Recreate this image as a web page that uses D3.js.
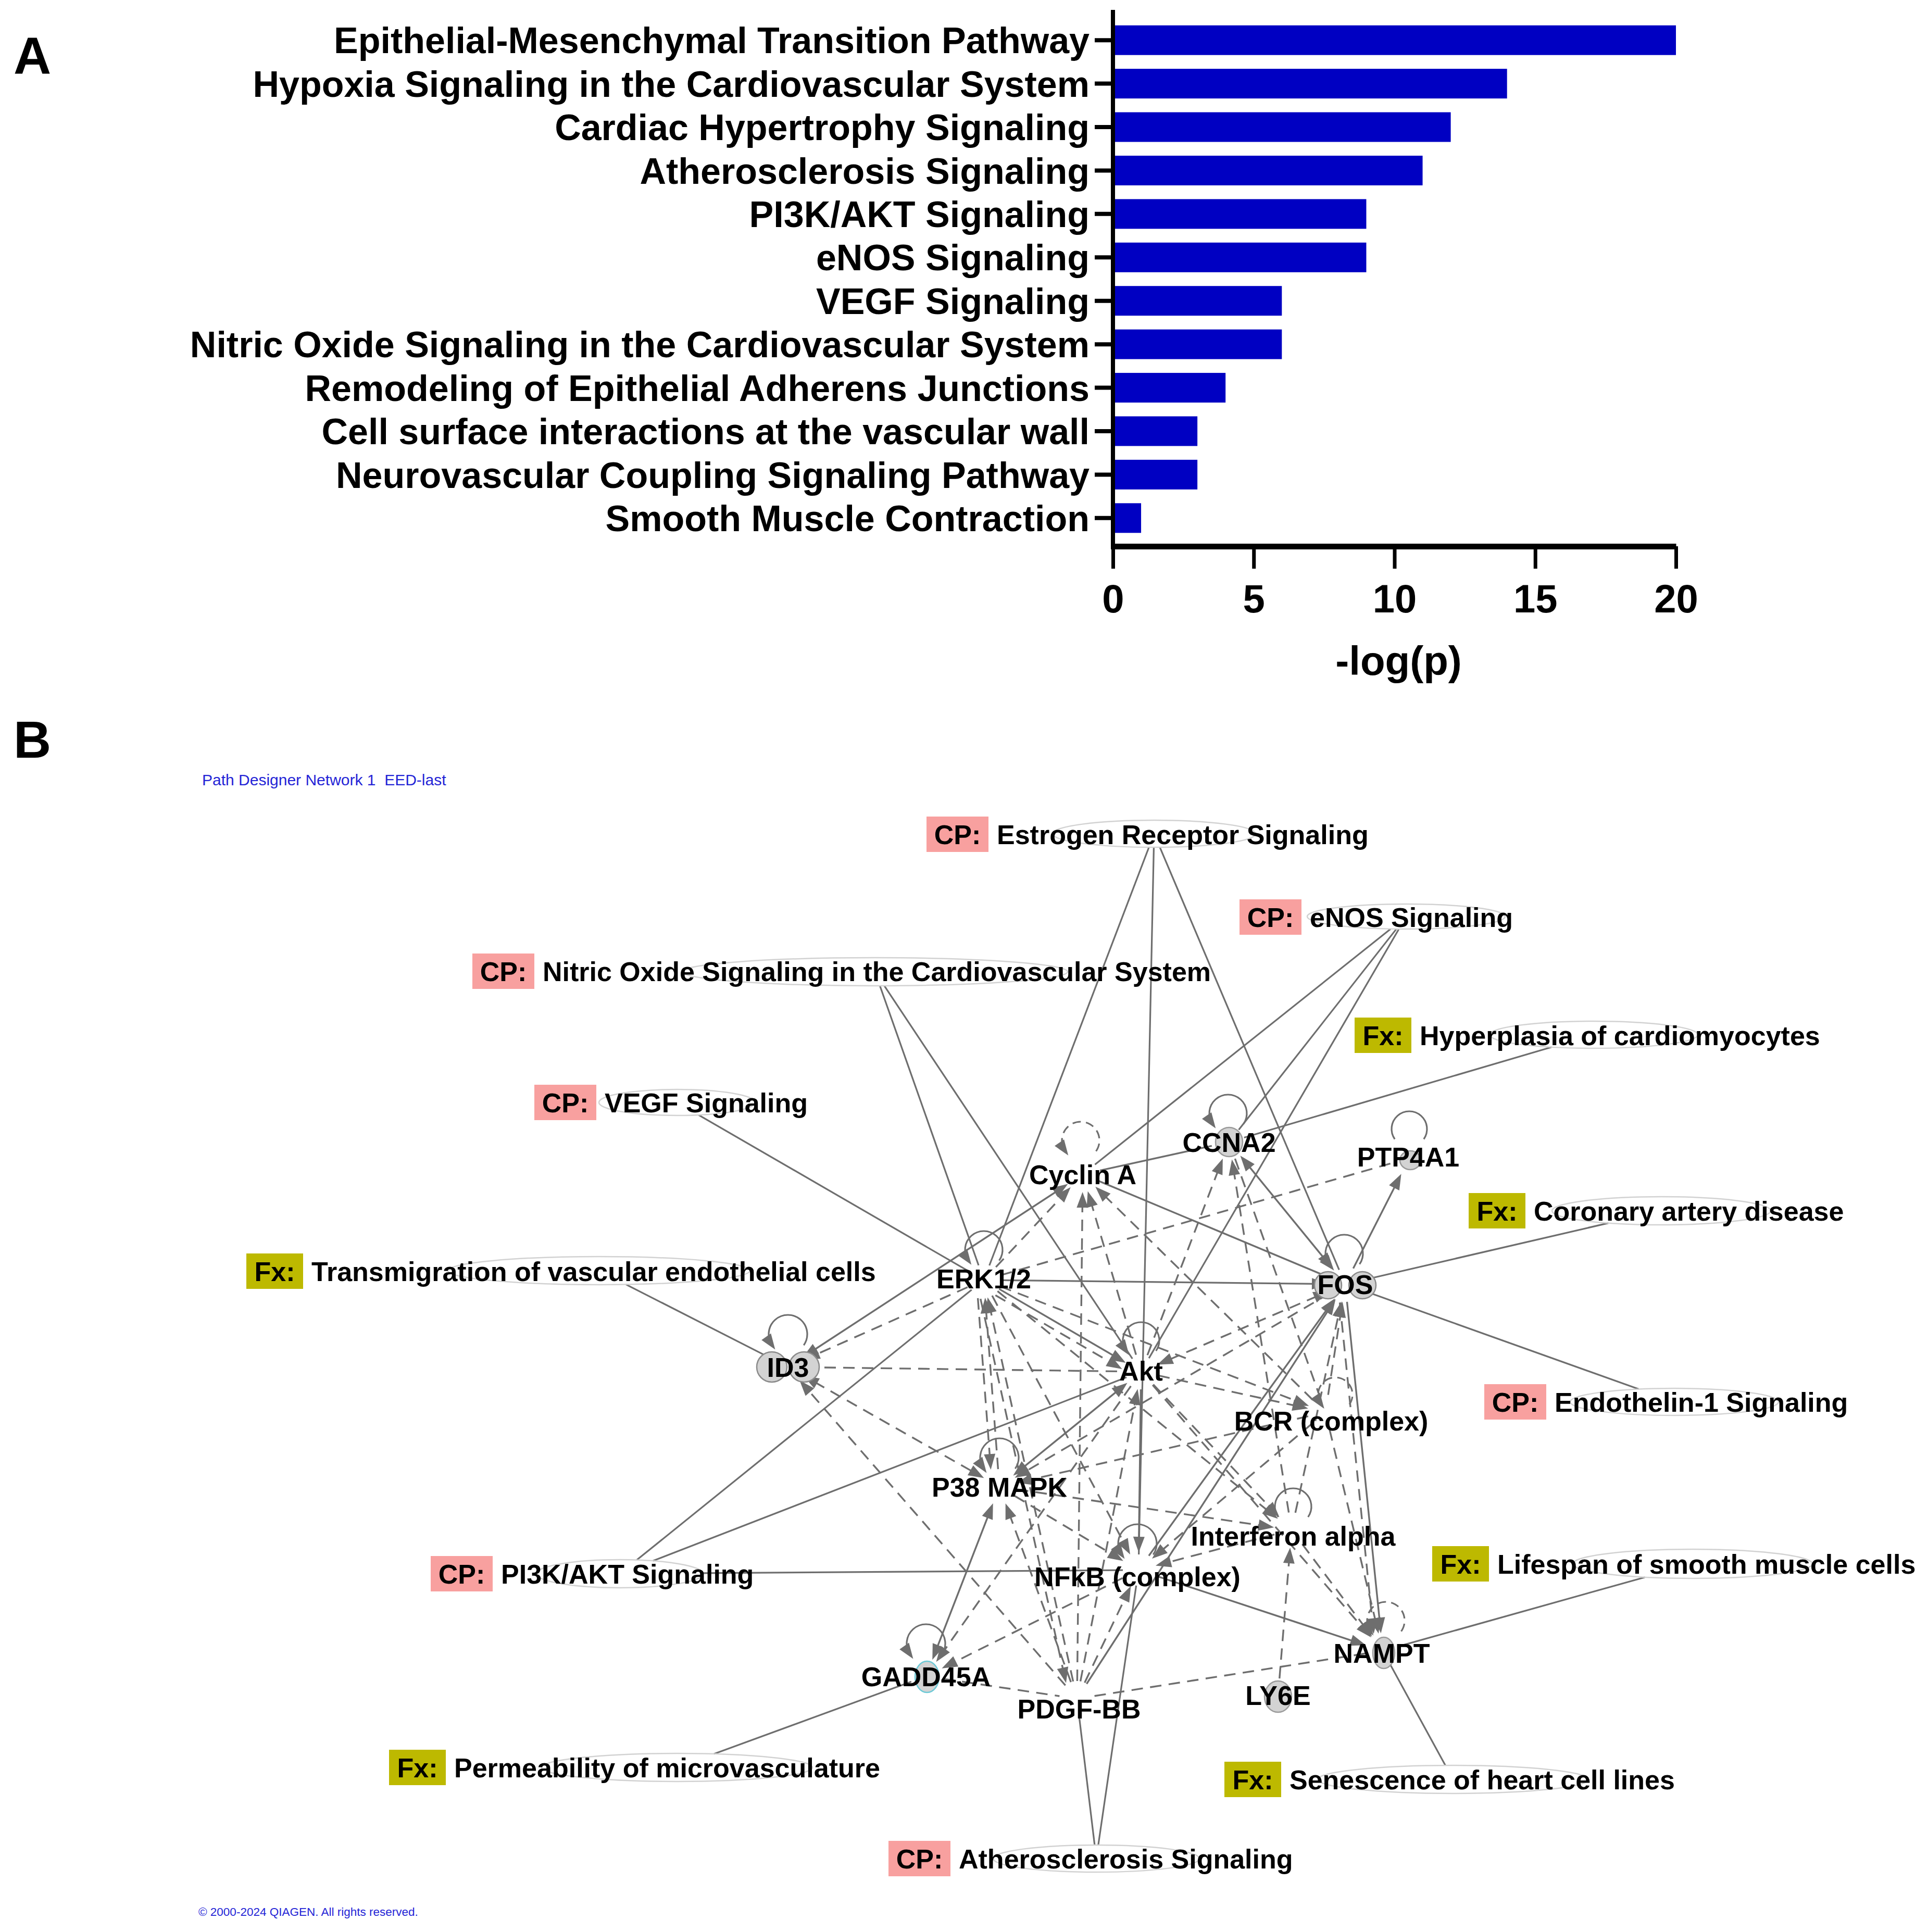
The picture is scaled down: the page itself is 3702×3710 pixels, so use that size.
<!DOCTYPE html>
<html><head><meta charset="utf-8">
<script src="https://cdn.jsdelivr.net/npm/d3@7"></script>
<style>html,body{margin:0;padding:0;background:#fff;} svg{display:block;}</style>
</head><body>
<script>
// ---------------- Panel A data ----------------
const pathways = [
  "Epithelial-Mesenchymal Transition Pathway",
  "Hypoxia Signaling in the Cardiovascular System",
  "Cardiac Hypertrophy Signaling",
  "Atherosclerosis Signaling",
  "PI3K/AKT Signaling",
  "eNOS Signaling",
  "VEGF Signaling",
  "Nitric Oxide Signaling in the Cardiovascular System",
  "Remodeling of Epithelial Adherens Junctions",
  "Cell surface interactions at the vascular wall",
  "Neurovascular Coupling Signaling Pathway",
  "Smooth Muscle Contraction"
];
const logP = [20, 14, 12, 11, 9, 9, 6, 6, 4, 3, 3, 1];
const xTickValues = [0, 5, 10, 15, 20];
const xAxisTitle = "-log(p)";

// ---------------- Panel B data ----------------
const molecules = ["Cyclin A","CCNA2","PTP4A1","ERK1/2","FOS","ID3","Akt","BCR (complex)",
  "P38 MAPK","Interferon alpha","NFkB (complex)","NAMPT","GADD45A","PDGF-BB","LY6E"];
const functionNodes = [
  ["CP","Estrogen Receptor Signaling"],
  ["CP","eNOS Signaling"],
  ["CP","Nitric Oxide Signaling in the Cardiovascular System"],
  ["Fx","Hyperplasia of cardiomyocytes"],
  ["CP","VEGF Signaling"],
  ["Fx","Coronary artery disease"],
  ["Fx","Transmigration of vascular endothelial cells"],
  ["CP","Endothelin-1 Signaling"],
  ["Fx","Lifespan of smooth muscle cells"],
  ["CP","PI3K/AKT Signaling"],
  ["Fx","Permeability of microvasculature"],
  ["Fx","Senescence of heart cell lines"],
  ["CP","Atherosclerosis Signaling"]
];
const functionLinks = [
  ["Estrogen Receptor Signaling","ERK1/2"],["Estrogen Receptor Signaling","NFkB (complex)"],["Estrogen Receptor Signaling","FOS"],
  ["eNOS Signaling","Cyclin A"],["eNOS Signaling","CCNA2"],["eNOS Signaling","Akt"],
  ["Nitric Oxide Signaling in the Cardiovascular System","ERK1/2"],["Nitric Oxide Signaling in the Cardiovascular System","Akt"],
  ["Hyperplasia of cardiomyocytes","CCNA2"],
  ["VEGF Signaling","ERK1/2"],
  ["Coronary artery disease","FOS"],
  ["Transmigration of vascular endothelial cells","ID3"],
  ["Endothelin-1 Signaling","FOS"],
  ["Lifespan of smooth muscle cells","NAMPT"],
  ["PI3K/AKT Signaling","ERK1/2"],["PI3K/AKT Signaling","Akt"],["PI3K/AKT Signaling","NFkB (complex)"],
  ["Permeability of microvasculature","GADD45A"],
  ["Senescence of heart cell lines","NAMPT"],
  ["Atherosclerosis Signaling","PDGF-BB"],["Atherosclerosis Signaling","NFkB (complex)"]
];
// [source, target, line style, arrowheads]
const molecularLinks = [
  ["ERK1/2","FOS","solid","end"],
  ["CCNA2","Cyclin A","solid","none"],
  ["Cyclin A","FOS","solid","none"],
  ["CCNA2","FOS","solid","both"],
  ["FOS","PTP4A1","solid","end"],
  ["Cyclin A","ID3","solid","both"],
  ["ERK1/2","Akt","solid","end"],
  ["Akt","NFkB (complex)","solid","end"],
  ["Akt","P38 MAPK","solid","both"],
  ["P38 MAPK","GADD45A","solid","both"],
  ["NFkB (complex)","FOS","solid","end"],
  ["PDGF-BB","FOS","solid","end"],
  ["FOS","NAMPT","solid","end"],
  ["NFkB (complex)","NAMPT","solid","end"],
  ["ERK1/2","PTP4A1","dashed","none"],
  ["ERK1/2","ID3","dashed","end"],
  ["ERK1/2","Cyclin A","dashed","end"],
  ["ID3","Akt","dashed","none"],
  ["ID3","P38 MAPK","dashed","both"],
  ["PDGF-BB","ID3","dashed","end"],
  ["PDGF-BB","Cyclin A","dashed","end"],
  ["PDGF-BB","ERK1/2","dashed","end"],
  ["ERK1/2","PDGF-BB","dashed","end+"],
  ["PDGF-BB","Akt","dashed","end"],
  ["PDGF-BB","NFkB (complex)","dashed","end"],
  ["PDGF-BB","P38 MAPK","dashed","end"],
  ["GADD45A","PDGF-BB","dashed","none"],
  ["PDGF-BB","NAMPT","dashed","none"],
  ["NFkB (complex)","GADD45A","dashed","end"],
  ["Akt","GADD45A","dashed","end"],
  ["Akt","Cyclin A","dashed","end"],
  ["BCR (complex)","Cyclin A","dashed","end"],
  ["Akt","CCNA2","dashed","end"],
  ["Interferon alpha","CCNA2","dashed","end"],
  ["CCNA2","BCR (complex)","dashed","none"],
  ["ERK1/2","BCR (complex)","dashed","end"],
  ["ERK1/2","Interferon alpha","dashed","end"],
  ["P38 MAPK","ERK1/2","dashed","end"],
  ["ERK1/2","P38 MAPK","dashed","end+"],
  ["ERK1/2","NFkB (complex)","dashed","end"],
  ["ERK1/2","Akt","dashed","end+"],
  ["P38 MAPK","Interferon alpha","dashed","end"],
  ["P38 MAPK","NFkB (complex)","dashed","end"],
  ["BCR (complex)","P38 MAPK","dashed","end"],
  ["BCR (complex)","FOS","dashed","end"],
  ["BCR (complex)","NFkB (complex)","dashed","end"],
  ["Interferon alpha","FOS","dashed","end"],
  ["Interferon alpha","NFkB (complex)","dashed","end"],
  ["LY6E","Interferon alpha","dashed","end"],
  ["BCR (complex)","NAMPT","dashed","end"],
  ["Akt","Interferon alpha","dashed","end"],
  ["Interferon alpha","NAMPT","dashed","end"],
  ["Akt","BCR (complex)","dashed","end"],
  ["FOS","Akt","dashed","both"],
  ["FOS","P38 MAPK","dashed","end"],
  ["Akt","NAMPT","dashed","end"],
  ["FOS","NAMPT","dashed","end+"]
];
// [molecule, line style, arrowhead]
const selfLoops = [
  ["Cyclin A","dashed",true],["CCNA2","solid",true],["PTP4A1","solid",false],["ERK1/2","solid",true],
  ["FOS","solid",true],["ID3","solid",true],["Akt","solid",true],["BCR (complex)","dashed",true],
  ["P38 MAPK","solid",true],["Interferon alpha","solid",false],["NFkB (complex)","solid",true],
  ["NAMPT","dashed",true],["GADD45A","solid",true]
];
const networkTitle = "Path Designer Network 1  EED-last";
const copyrightText = "\u00a9 2000-2024 QIAGEN. All rights reserved.";

// ---------------- Layout (pixel positions of the diagram) ----------------
// molecule: [anchor x, anchor y, label x, label y]
const moleculeLayout = {
  "Cyclin A":[2079,2255,2079,2255], "CCNA2":[2360,2193,2360,2193], "PTP4A1":[2706,2224,2704,2221],
  "ERK1/2":[1889,2458,1889,2455], "FOS":[2583,2466,2583,2466], "ID3":[1513,2625,1513,2625],
  "Akt":[2191,2634,2191,2632], "BCR (complex)":[2545,2712,2556,2728], "P38 MAPK":[1919,2855,1919,2855],
  "Interferon alpha":[2480,2938,2483,2949], "NFkB (complex)":[2186,3015,2184,3027],
  "NAMPT":[2655,3170,2653,3174], "GADD45A":[1778,3219,1778,3219], "PDGF-BB":[2068,3262,2072,3281],
  "LY6E":[2454,3257,2454,3255]
};
// circles drawn under molecule labels: [molecule, cx, cy, rx, ry, stroke]
const moleculeShapes = [
  ["CCNA2",2360,2193,26,28,"#9a9a9a"],["PTP4A1",2708,2228,20,18,"#9a9a9a"],
  ["FOS",2550,2468,26,26,"#8a8a8a"],["FOS",2616,2468,26,26,"#8a8a8a"],
  ["ID3",1482,2625,29,29,"#8a8a8a"],["ID3",1544,2625,29,29,"#8a8a8a"],
  ["LY6E",2454,3258,26,30,"#9a9a9a"],["NAMPT",2657,3174,21,30,"#9a9a9a"],
  ["GADD45A",1780,3220,23,30,"#6cc9d6"]
];
// loop offsets relative to anchor: [dx, dy, r]
const loopLayout = {
  "Cyclin A":[-4,-65,36], "CCNA2":[-2,-55,36], "PTP4A1":[0,-56,34], "ERK1/2":[0,-58,36],
  "FOS":[-2,-59,36], "ID3":[0,-63,37], "Akt":[0,-60,35], "BCR (complex)":[19,-34,33],
  "P38 MAPK":[0,-56,37], "Interferon alpha":[3,-45,35], "NFkB (complex)":[-2,-51,37],
  "NAMPT":[6,-58,36], "GADD45A":[0,-63,37]
};
// function node: box left, centre y, ellipse cx, cy, rx, ry
const functionLayout = {
  "Estrogen Receptor Signaling":[1779,1602,2216,1601,195,26],
  "eNOS Signaling":[2380,1761,2700,1760,190,24],
  "Nitric Oxide Signaling in the Cardiovascular System":[907,1865,1680,1866,370,27],
  "Hyperplasia of cardiomyocytes":[2601,1988,3060,1987,200,26],
  "VEGF Signaling":[1026,2117,1300,2117,150,25],
  "Coronary artery disease":[2820,2325,3190,2325,210,27],
  "Transmigration of vascular endothelial cells":[473,2441,1150,2440,290,27],
  "Endothelin-1 Signaling":[2850,2692,3215,2692,200,26],
  "Lifespan of smooth muscle cells":[2750,3003,3250,3003,230,28],
  "PI3K/AKT Signaling":[827,3022,1190,3022,160,27],
  "Permeability of microvasculature":[747,3394,1300,3394,260,27],
  "Senescence of heart cell lines":[2351,3417,2790,3417,260,27],
  "Atherosclerosis Signaling":[1706,3569,2105,3569,198,26]
};

// ---------------- Drawing ----------------
const W = 3702, H = 3710;
const FONT = "'Liberation Sans', Arial, Helvetica, sans-serif";
const svg = d3.select("body").append("svg").attr("width", W).attr("height", H);
svg.append("rect").attr("width", W).attr("height", H).attr("fill", "#fff");

// ===== Panel A =====
const gA = svg.append("g");
const x = d3.scaleLinear().domain([0, 20]).range([2137, 3218]);
const y = d3.scaleBand().domain(pathways).range([7, 1065]).paddingInner(0.317).paddingOuter(0.5);

gA.selectAll("rect.bar").data(pathways).join("rect")
  .attr("class", "bar")
  .attr("x", x(0)).attr("y", d => y(d))
  .attr("width", (d, i) => x(logP[i]) - x(0))
  .attr("height", y.bandwidth())
  .attr("fill", "#0000c2");

const yAxis = gA.append("g").attr("transform", `translate(${x(0)},0)`)
  .call(d3.axisLeft(y).tickSize(35).tickPadding(10).tickSizeOuter(0));
yAxis.select(".domain").remove();
yAxis.attr("font-family", FONT).attr("font-size", 70).attr("font-weight", "bold");
yAxis.selectAll(".tick line").attr("stroke", "#000").attr("stroke-width", 8);
yAxis.selectAll(".tick text").attr("fill", "#000").attr("dy", "0.36em");

gA.append("line").attr("x1", x(0)).attr("x2", x(0)).attr("y1", 19).attr("y2", 1055)
  .attr("stroke", "#000").attr("stroke-width", 8);

const xAxis = gA.append("g").attr("transform", "translate(0,1049)")
  .call(d3.axisBottom(x).tickValues(xTickValues).tickSize(43).tickPadding(30).tickSizeOuter(0));
xAxis.attr("font-family", FONT).attr("font-size", 76).attr("font-weight", "bold");
xAxis.select(".domain").attr("stroke", "#000").attr("stroke-width", 11);
xAxis.selectAll(".tick line").attr("stroke", "#000").attr("stroke-width", 7);
xAxis.selectAll(".tick text").attr("fill", "#000");

gA.append("text").attr("x", (x(0) + x(20)) / 2 + 8).attr("y", 1296)
  .attr("text-anchor", "middle").attr("font-family", FONT).attr("font-weight", "bold")
  .attr("font-size", 78).text(xAxisTitle);

svg.append("text").attr("x", 26).attr("y", 142).attr("font-family", FONT).attr("font-weight", "bold")
  .attr("font-size", 100).text("A");
svg.append("text").attr("x", 26).attr("y", 1455).attr("font-family", FONT).attr("font-weight", "bold")
  .attr("font-size", 100).text("B");

// ===== Panel B =====
const gB = svg.append("g");
const EDGE = "#6e6e6e";
const gEdges = gB.append("g");
const gArrows = gB.append("g");
const R = 34, AL = 30, AW = 11;

function arrowHead(tip, ux, uy) {
  const bx = tip[0] - ux * AL, by = tip[1] - uy * AL;
  const nx = -uy, ny = ux;
  gArrows.append("path")
    .attr("d", `M${tip[0]},${tip[1]}L${bx + nx * AW},${by + ny * AW}L${bx - nx * AW},${by - ny * AW}Z`)
    .attr("fill", EDGE);
}
function drawLine(p1, p2, style, width) {
  gEdges.append("line").attr("x1", p1[0]).attr("y1", p1[1]).attr("x2", p2[0]).attr("y2", p2[1])
    .attr("stroke", EDGE).attr("stroke-width", width)
    .attr("stroke-dasharray", style === "dashed" ? "22,14" : null);
}

// function links
functionLinks.forEach(([f, m]) => {
  const L = functionLayout[f];
  const cx = L[2], cy = L[3], rx = L[4], ry = L[5];
  const t = moleculeLayout[m];
  const dx = t[0] - cx, dy = t[1] - cy;
  const k = 1 / Math.sqrt((dx / rx) ** 2 + (dy / ry) ** 2);
  const len = Math.hypot(dx, dy);
  const p1 = [cx + dx * k, cy + dy * k];
  const p2 = [t[0] - dx / len * 30, t[1] - dy / len * 30];
  drawLine(p1, p2, "solid", 3.2);
});

// molecular links
molecularLinks.forEach(([s, t, style, arrows]) => {
  const a = moleculeLayout[s], b = moleculeLayout[t];
  const dx = b[0] - a[0], dy = b[1] - a[1], len = Math.hypot(dx, dy);
  const ux = dx / len, uy = dy / len, nx = -uy, ny = ux;
  const off = arrows.endsWith("+") ? 14 : 0;
  const p1 = [a[0] + ux * R + nx * off, a[1] + uy * R + ny * off];
  const p2 = [b[0] - ux * R + nx * off, b[1] - uy * R + ny * off];
  const endArrow = arrows.startsWith("end") || arrows === "both";
  const startArrow = arrows === "both";
  const q1 = startArrow ? [p1[0] + ux * AL * 0.8, p1[1] + uy * AL * 0.8] : p1;
  const q2 = endArrow ? [p2[0] - ux * AL * 0.8, p2[1] - uy * AL * 0.8] : p2;
  drawLine(q1, q2, style, 3.4);
  if (endArrow) arrowHead(p2, ux, uy);
  if (startArrow) arrowHead(p1, -ux, -uy);
});

// self loops
selfLoops.forEach(([m, style, arrow]) => {
  const n = moleculeLayout[m], L = loopLayout[m];
  const cx = n[0] + L[0], cy = n[1] + L[1], r = L[2];
  const a = 55 * Math.PI / 180;
  const A = [cx - r * Math.sin(a), cy + r * Math.cos(a)];
  const B = [cx + r * Math.sin(a), cy + r * Math.cos(a)];
  gEdges.append("path")
    .attr("d", `M${B[0]},${B[1]}A${r},${r} 0 1 0 ${A[0]},${A[1]}`)
    .attr("fill", "none").attr("stroke", EDGE).attr("stroke-width", 3.2)
    .attr("stroke-dasharray", style === "dashed" ? "16,10" : null);
  if (arrow) {
    const phi = Math.PI / 2 + a;
    const ux = Math.sin(phi), uy = -Math.cos(phi);
    arrowHead([A[0] + ux * 10, A[1] + uy * 10], ux, uy);
  }
});

// ellipses behind function labels
gB.append("g").selectAll("ellipse").data(functionNodes).join("ellipse")
  .attr("cx", d => functionLayout[d[1]][2]).attr("cy", d => functionLayout[d[1]][3])
  .attr("rx", d => functionLayout[d[1]][4]).attr("ry", d => functionLayout[d[1]][5])
  .attr("fill", "none").attr("stroke", "#d2d2d2").attr("stroke-width", 2.5);

// molecule shapes
gB.append("g").selectAll("ellipse").data(moleculeShapes).join("ellipse")
  .attr("cx", d => d[1]).attr("cy", d => d[2]).attr("rx", d => d[3]).attr("ry", d => d[4])
  .attr("fill", "#d3d3d3").attr("stroke", d => d[5]).attr("stroke-width", 2.5);

// function labels
const gF = gB.append("g").attr("font-family", FONT).attr("font-weight", "bold").attr("font-size", 52);
functionNodes.forEach(([type, name]) => {
  const L = functionLayout[name];
  const bw = type === "CP" ? 119 : 109;
  gF.append("rect").attr("x", L[0]).attr("y", L[1] - 34).attr("width", bw).attr("height", 68)
    .attr("fill", type === "CP" ? "#f8a09f" : "#bdb900");
  gF.append("text").attr("x", L[0] + bw / 2).attr("y", L[1] + 19).attr("text-anchor", "middle")
    .attr("fill", "#000").text(type + ":");
  gF.append("text").attr("x", L[0] + bw + 16).attr("y", L[1] + 19)
    .attr("fill", "#000").text(name);
});

// molecule labels
gB.append("g").attr("font-family", FONT).attr("font-weight", "bold").attr("font-size", 52)
  .selectAll("text").data(molecules).join("text")
  .attr("x", d => moleculeLayout[d][2]).attr("y", d => moleculeLayout[d][3] + 19)
  .attr("text-anchor", "middle").attr("fill", "#000").text(d => d);

// small blue texts
svg.append("text").attr("x", 388).attr("y", 1508).attr("font-family", FONT).attr("font-size", 30)
  .attr("fill", "#2424d6").style("white-space", "pre").text(networkTitle);
svg.append("text").attr("x", 381).attr("y", 3679).attr("font-family", FONT).attr("font-size", 22.5)
  .attr("fill", "#2424d6").text(copyrightText);
</script>
</body></html>
